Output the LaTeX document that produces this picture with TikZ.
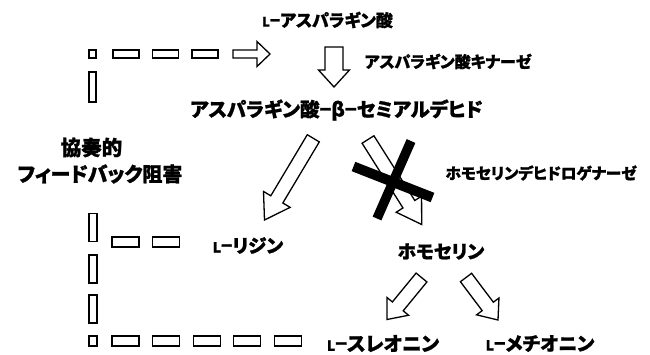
\documentclass[tikz,border=0pt]{standalone}
\usepackage{fontspec}
\usepackage{graphicx}
\usetikzlibrary{calc}
\newfontfamily\jp[RawFeature=+palt, BoldFeatures={FakeBold=1.2}]{Noto Sans CJK JP}
\newcommand\Lp[1]{{\fontsize{#1}{#1}\selectfont L}−}
\newcommand\blockarrow[5]{% tail, tip, half shaft, half head, head length
  \path ($(#2)!#5!(#1)$) coordinate (bh);
  \draw[barrow] ($(#1)!#3!90:(#2)$) -- ($(bh)!#3!90:(#2)$) -- ($(bh)!#4!90:(#2)$) -- (#2)
    -- ($(bh)!#4!-90:(#2)$) -- ($(bh)!#3!-90:(#2)$) -- ($(#1)!#3!-90:(#2)$) -- cycle;
}
\tikzset{
  lbl/.style={font=\jp\bfseries, inner sep=0pt, anchor=center},
  barrow/.style={draw=black, fill=white, line width=1.3pt, line join=miter},
  dbox/.style={draw=black, line width=1.3pt},
  xbar/.style={draw=black, line cap=butt},
}
\begin{document}
\begin{tikzpicture}[x=1pt, y=-1pt]
\useasboundingbox (0,0) rectangle (650,354);
\fill[white] (0,0) rectangle (650,354);

% labels
\node[lbl, font=\jp\bfseries\fontsize{17}{19}\selectfont] (asp) at (327.5,20) {\Lp{13}アスパラギン酸};
\node[lbl, font=\jp\bfseries\fontsize{19.5}{21}\selectfont] (asa) at (336.5,110) {アスパラギン酸−β−セミアルデヒド};
\node[lbl, font=\jp\bfseries\fontsize{16}{18}\selectfont] (ak) at (448,61.5) {アスパラギン酸キナーゼ};
\node[lbl, font=\jp\bfseries\fontsize{15.6}{17}\selectfont] (hdh) at (541,173) {ホモセリンデヒドロゲナーゼ};
\node[lbl, font=\jp\bfseries\fontsize{20.5}{22}\selectfont] (kyo) at (91.5,147.5) {協奏的};
\node[lbl, font=\jp\bfseries\fontsize{20}{22}\selectfont] (fb) at (100,174) {フィードバック阻害};
\node[lbl, font=\jp\bfseries\fontsize{18.5}{20}\selectfont] (lys) at (248,245.5) {\Lp{14}リジン};
\node[lbl, font=\jp\bfseries\fontsize{18.5}{20}\selectfont] (hse) at (441,251.5) {ホモセリン};
\node[lbl, font=\jp\bfseries\fontsize{19.5}{21}\selectfont] (thr) at (383,343.5) {\Lp{14}スレオニン};
\node[lbl, font=\jp\bfseries\fontsize{19}{21}\selectfont] (met) at (540,343.5) {\Lp{14}メチオニン};

% arrow end points
\coordinate (fbT) at (233,54);   \coordinate (fbP) at (270,54);
\coordinate (akT) at (334,47);   \coordinate (akP) at (334,87);
\coordinate (lyT) at (313.3,138.3); \coordinate (lyP) at (264.5,220);
\coordinate (hsT) at (368,139.5);   \coordinate (hsP) at (421.7,224.5);
\coordinate (thT) at (421.5,277.5); \coordinate (thP) at (387,319.5);
\coordinate (meT) at (466,277.5);   \coordinate (meP) at (498,320);

\blockarrow{fbT}{fbP}{4pt}{12.5pt}{13pt}
\blockarrow{akT}{akP}{9pt}{15.5pt}{17pt}
\blockarrow{lyT}{lyP}{7pt}{15.5pt}{24pt}
\blockarrow{hsT}{hsP}{7pt}{15pt}{24pt}
\blockarrow{thT}{thP}{7pt}{14pt}{17pt}
\blockarrow{meT}{meP}{7pt}{14pt}{17pt}

% cross over the homoserine dehydrogenase arrow
\coordinate (x1a) at (411,141);   \coordinate (x1b) at (377,218.5);
\coordinate (x2a) at (353.5,166.5); \coordinate (x2b) at (432.5,197.5);
\draw[xbar, line width=9.5pt] (x1a) -- (x1b);
\draw[xbar, line width=10pt] (x2a) -- (x2b);

% feedback inhibition (hollow dashed line)
\draw[dbox] (89,50) rectangle (96,58);
\foreach \x in {113,152.5,192} \draw[dbox] (\x,50) rectangle ++(26,8);
\draw[dbox] (89,72) rectangle (96,102);
\foreach \y in {213.5,255,295} \draw[dbox] (89,\y) rectangle ++(8,28);
\foreach \x in {112,152.6} \draw[dbox] (\x,237) rectangle ++(27,10);
\draw[dbox] (89,336) rectangle (97,346);
\foreach \x in {112,152.6,193.2,233.8,274.4} \draw[dbox] (\x,336) rectangle ++(27,10);
\end{tikzpicture}
\end{document}
